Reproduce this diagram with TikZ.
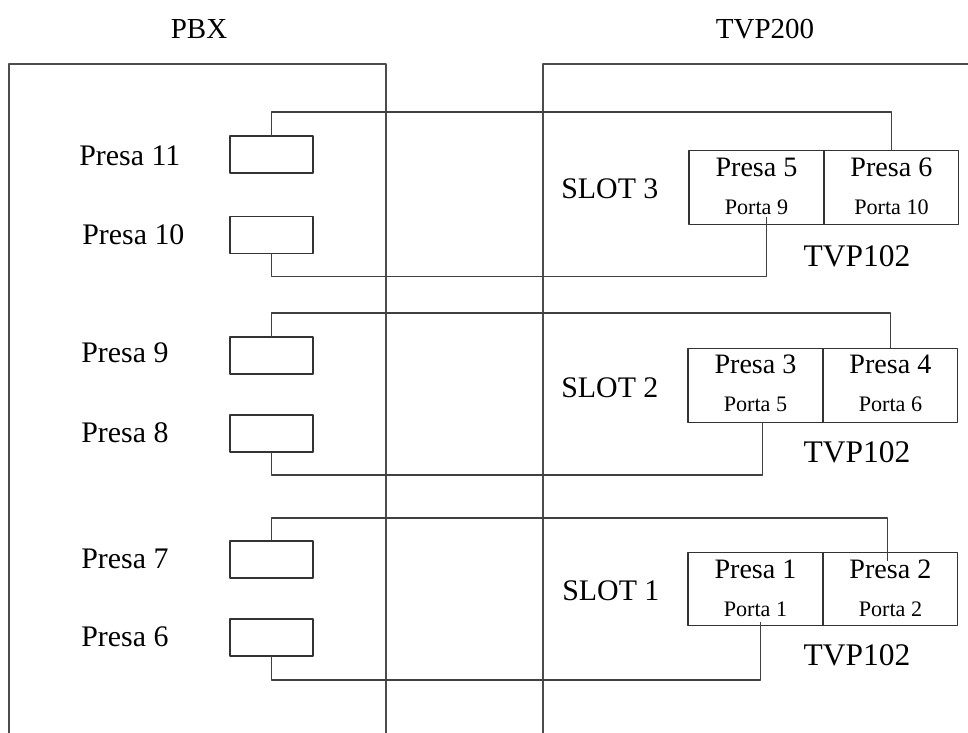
\documentclass[tikz,border=0pt]{standalone}
\usepackage{fontspec}
\setmainfont{Liberation Serif}
\usetikzlibrary{calc,positioning}

\begin{document}
\begin{tikzpicture}[x=0.02cm, y=-0.02cm, line join=round,
        frame/.style={draw=black!70, line width=0.8pt},
        wire/.style={draw=black!75, line width=0.6pt},
        jack/.style={draw=black!80, line width=0.6pt, minimum width=1.66cm, minimum height=0.74cm, inner sep=0pt, outer sep=0pt},
        cell/.style={draw=black!80, line width=0.6pt, minimum width=2.7cm, minimum height=1.47cm, inner sep=0pt, outer sep=0pt},
        head/.style={font=\fontsize{16.5}{19}\selectfont, inner sep=0pt, anchor=base},
        presa/.style={font=\fontsize{17}{20}\selectfont, inner sep=0pt, anchor=base west},
        slot/.style={font=\fontsize{17}{20}\selectfont, inner sep=0pt, anchor=base west},
        inpresa/.style={font=\fontsize{16}{19}\selectfont, inner sep=0pt, anchor=base},
        porta/.style={font=\fontsize{12.6}{15}\selectfont, inner sep=0pt, anchor=base},
        tvp/.style={font=\fontsize{17.9}{21}\selectfont, inner sep=0pt, anchor=base}]
        \useasboundingbox (0,0) rectangle (968,733);

        % 两个机箱
        \draw[frame] (9,733) -- (9,64) -- (386,64) -- (386,733);
        \draw[frame] (543,733) -- (543,64) -- (968,64);
        \node[head] (pbx) at (199,39) {PBX};
        \node[head] (tvp200) at (765,39) {TVP200};

        % SLOT 3
        \node[jack] (j11) at (271.5,154.5) {};
        \node[jack] (j10) at (271.5,235) {};
        \node[presa] (l11) at (79,166) {Presa 11};
        \node[presa] (l10) at (82,245) {Presa 10};
        \node[cell] (c5) at (756.5,187.5) {};
        \node[cell, right=0pt of c5] (c6) {};
        \node[inpresa] (t5) at ($(c5.center)+(0,-10.5)$) {Presa 5};
        \node[porta] (q9) at ($(c5.center)+(0,27.5)$) {Porta 9};
        \node[inpresa] (t6) at ($(c6.center)+(0,-10.5)$) {Presa 6};
        \node[porta] (q10) at ($(c6.center)+(0,27.5)$) {Porta 10};
        \node[slot] (s3) at (561,199) {SLOT 3};
        \node[tvp] (m3) at ($(c5.south east)+(33,42)$) {TVP102};
        \draw[wire] (j11.north) -- ++(0,-24) -| (c6.north);
        \draw[wire] (j10.south) -- ++(0,23) -| ($(c5.south)+(10,-7)$);

        % SLOT 2
        \node[jack] (j9) at (271.5,355.5) {};
        \node[jack] (j8) at (271.5,433.5) {};
        \node[presa] (l9) at (81,363) {Presa 9};
        \node[presa] (l8) at (81,443) {Presa 8};
        \node[cell] (c3) at (755.5,385.5) {};
        \node[cell, right=0pt of c3] (c4) {};
        \node[inpresa] (t3) at ($(c3.center)+(0,-11.5)$) {Presa 3};
        \node[porta] (q5) at ($(c3.center)+(0,26.5)$) {Porta 5};
        \node[inpresa] (t4) at ($(c4.center)+(0,-11.5)$) {Presa 4};
        \node[porta] (q6) at ($(c4.center)+(0,26.5)$) {Porta 6};
        \node[slot] (s2) at (561,398) {SLOT 2};
        \node[tvp] (m2) at ($(c3.south east)+(34,40)$) {TVP102};
        \draw[wire] (j9.north) -- ++(0,-24) -| (c4.north);
        \draw[wire] (j8.south) -- ++(0,23) -| ($(c3.south)+(7,0)$);

        % SLOT 1
        \node[jack] (j7) at (271.5,559.5) {};
        \node[jack] (j6) at (271.5,637.5) {};
        \node[presa] (l7) at (81,568) {Presa 7};
        \node[presa] (l6) at (81,646) {Presa 6};
        \node[cell] (c1) at (755.5,589) {};
        \node[cell, right=0pt of c1] (c2) {};
        \node[inpresa] (t1) at ($(c1.center)+(0,-10.5)$) {Presa 1};
        \node[porta] (q1) at ($(c1.center)+(0,27.5)$) {Porta 1};
        \node[inpresa] (t2) at ($(c2.center)+(0,-10.5)$) {Presa 2};
        \node[porta] (q2) at ($(c2.center)+(0,27.5)$) {Porta 2};
        \node[slot] (s1) at (562,601) {SLOT 1};
        \node[tvp] (m1) at ($(c1.south east)+(34,40)$) {TVP102};
        \draw[wire] (j7.north) -- ++(0,-23) -| ($(c2.north)+(-3,9)$);
        \draw[wire] (j6.south) -- ++(0,24) -| ($(c1.south)+(5,-4)$);
\end{tikzpicture}
\end{document}
